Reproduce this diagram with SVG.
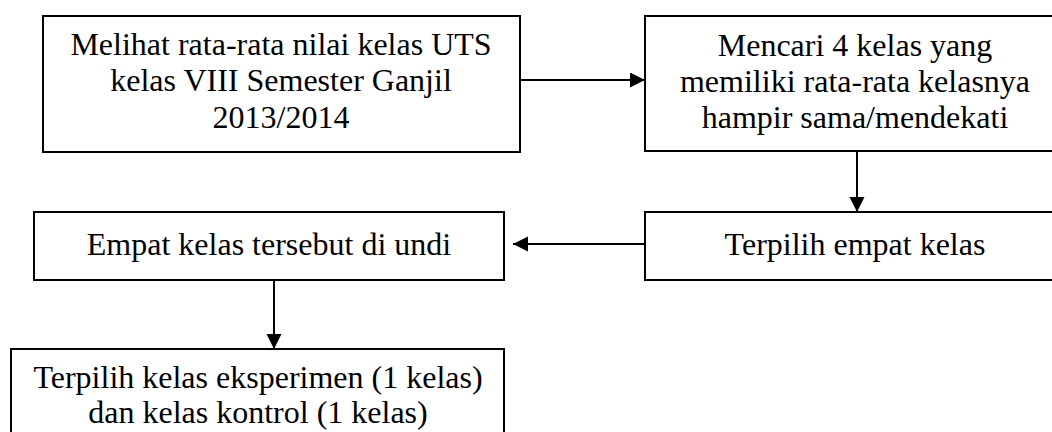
<svg xmlns="http://www.w3.org/2000/svg" width="1052" height="432" viewBox="0 0 1052 432">
<style>
.box{fill:#fff;stroke:#000;stroke-width:2}
.t{font-family:"Liberation Serif","Times New Roman",serif;font-size:32px;fill:#000;text-anchor:middle}
.c{fill:none;stroke:#000;stroke-width:2}
</style>
<defs>
<marker id="ah" markerUnits="userSpaceOnUse" markerWidth="16" markerHeight="16" refX="15" refY="7.5" orient="auto">
<path d="M0,0 L15,7.5 L0,15 Z" fill="#000"/>
</marker>
</defs>
<rect width="1052" height="432" fill="#fff"/>
<g id="node1">
<rect class="box" x="43" y="16" width="477" height="136"/>
<text class="t" x="281" y="55">Melihat rata-rata nilai kelas UTS</text>
<text class="t" x="281" y="91">kelas VIII Semester Ganjil</text>
<text class="t" x="281" y="128">2013/2014</text>
</g>
<g id="node2">
<rect class="box" x="645" y="16" width="422" height="135"/>
<text class="t" x="855" y="56">Mencari 4 kelas yang</text>
<text class="t" x="855" y="92">memiliki rata-rata kelasnya</text>
<text class="t" x="855" y="128">hampir sama/mendekati</text>
</g>
<g id="node3">
<rect class="box" x="645" y="212" width="422" height="68"/>
<text class="t" x="855" y="255">Terpilih empat kelas</text>
</g>
<g id="node4">
<rect class="box" x="34" y="212" width="470" height="68"/>
<text class="t" x="269" y="255">Empat kelas tersebut di undi</text>
</g>
<g id="node5">
<rect class="box" x="11" y="349" width="493" height="100"/>
<text class="t" x="258" y="388">Terpilih kelas eksperimen (1 kelas)</text>
<text class="t" x="258" y="423">dan kelas kontrol (1 kelas)</text>
</g>
<g id="connectors">
<line class="c" x1="520" y1="80" x2="645" y2="80" marker-end="url(#ah)"/>
<line class="c" x1="857" y1="151" x2="857" y2="212" marker-end="url(#ah)"/>
<line class="c" x1="645" y1="244" x2="513" y2="244" marker-end="url(#ah)"/>
<line class="c" x1="274" y1="280" x2="274" y2="349" marker-end="url(#ah)"/>
</g>
</svg>
